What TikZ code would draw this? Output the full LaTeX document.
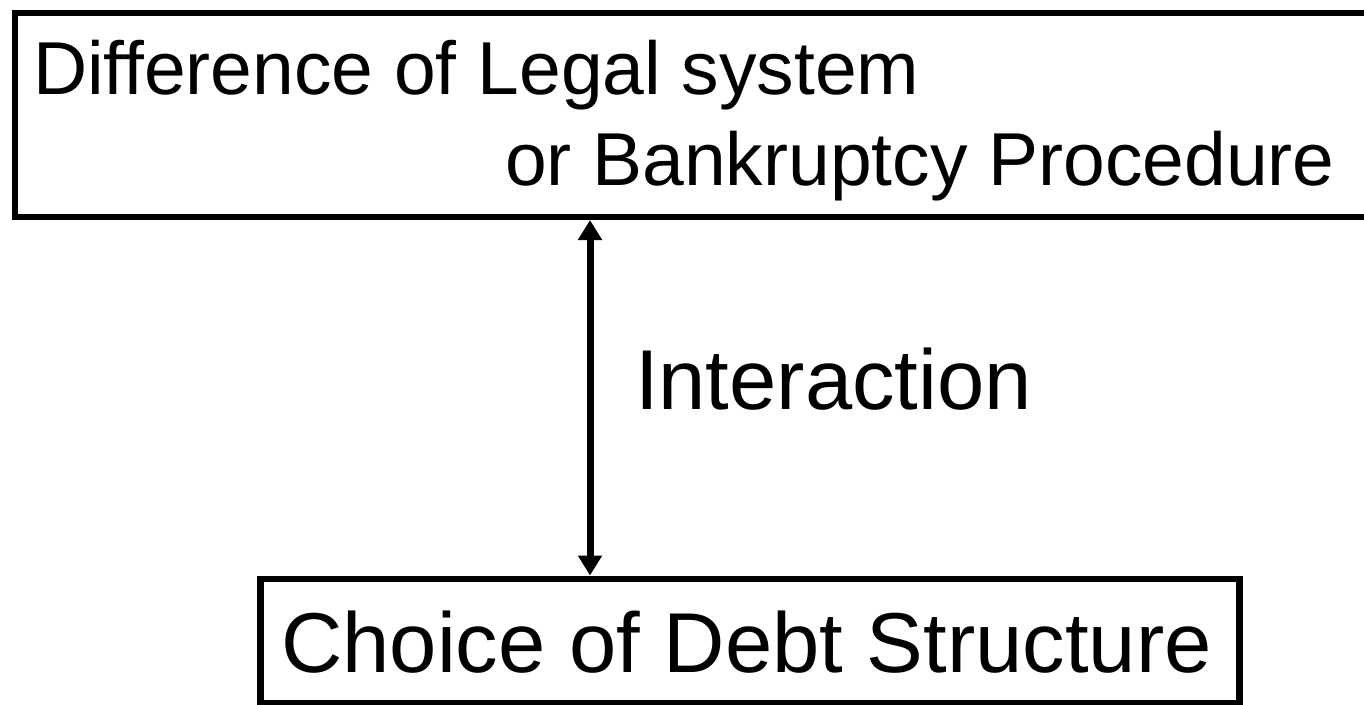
\documentclass[tikz,border=0pt]{standalone}
\usepackage{fontspec}
\setmainfont{Liberation Sans}
\usetikzlibrary{arrows.meta}
\tikzset{
  boxstyle/.style={draw=black, line width=6.5pt, rectangle, inner sep=0pt},
  txt/.style={inner sep=0pt, outer sep=0pt, text=black},
  bigtxt/.style={txt, font=\fontsize{85}{90}\selectfont},
  toptxt/.style={txt, font=\fontsize{75}{80}\selectfont},
  link/.style={line width=7pt, {Triangle[width=23pt,length=20pt]}-{Triangle[width=23pt,length=20pt]}}
}
\begin{document}
\begin{tikzpicture}[x=1pt,y=-1pt]
\clip (0,0) rectangle (1364,704);
\fill[white] (0,0) rectangle (1364,704);
% boxes
\node[boxstyle, minimum width=1400pt, minimum height=204pt, anchor=north west] (top) at (11.5,9.5) {};
\node[boxstyle, minimum width=979pt, minimum height=124.5pt, anchor=north west] (bottom) at (257,575.5) {};
% texts
\node[toptxt, anchor=base west] (t1) at (33,94) {Difference of Legal system};
\node[toptxt, anchor=base west] (t2) at (505,185) {or Bankruptcy Procedure};
\node[bigtxt, anchor=base west] (inter) at (635,409) {Interaction};
\node[bigtxt, anchor=base] (choice) at (746.5,672) {Choice of Debt Structure};
% connector
\coordinate (ax) at (590,0);
\draw[link] (top.south -| ax) -- (bottom.north -| ax);
\end{tikzpicture}
\end{document}
